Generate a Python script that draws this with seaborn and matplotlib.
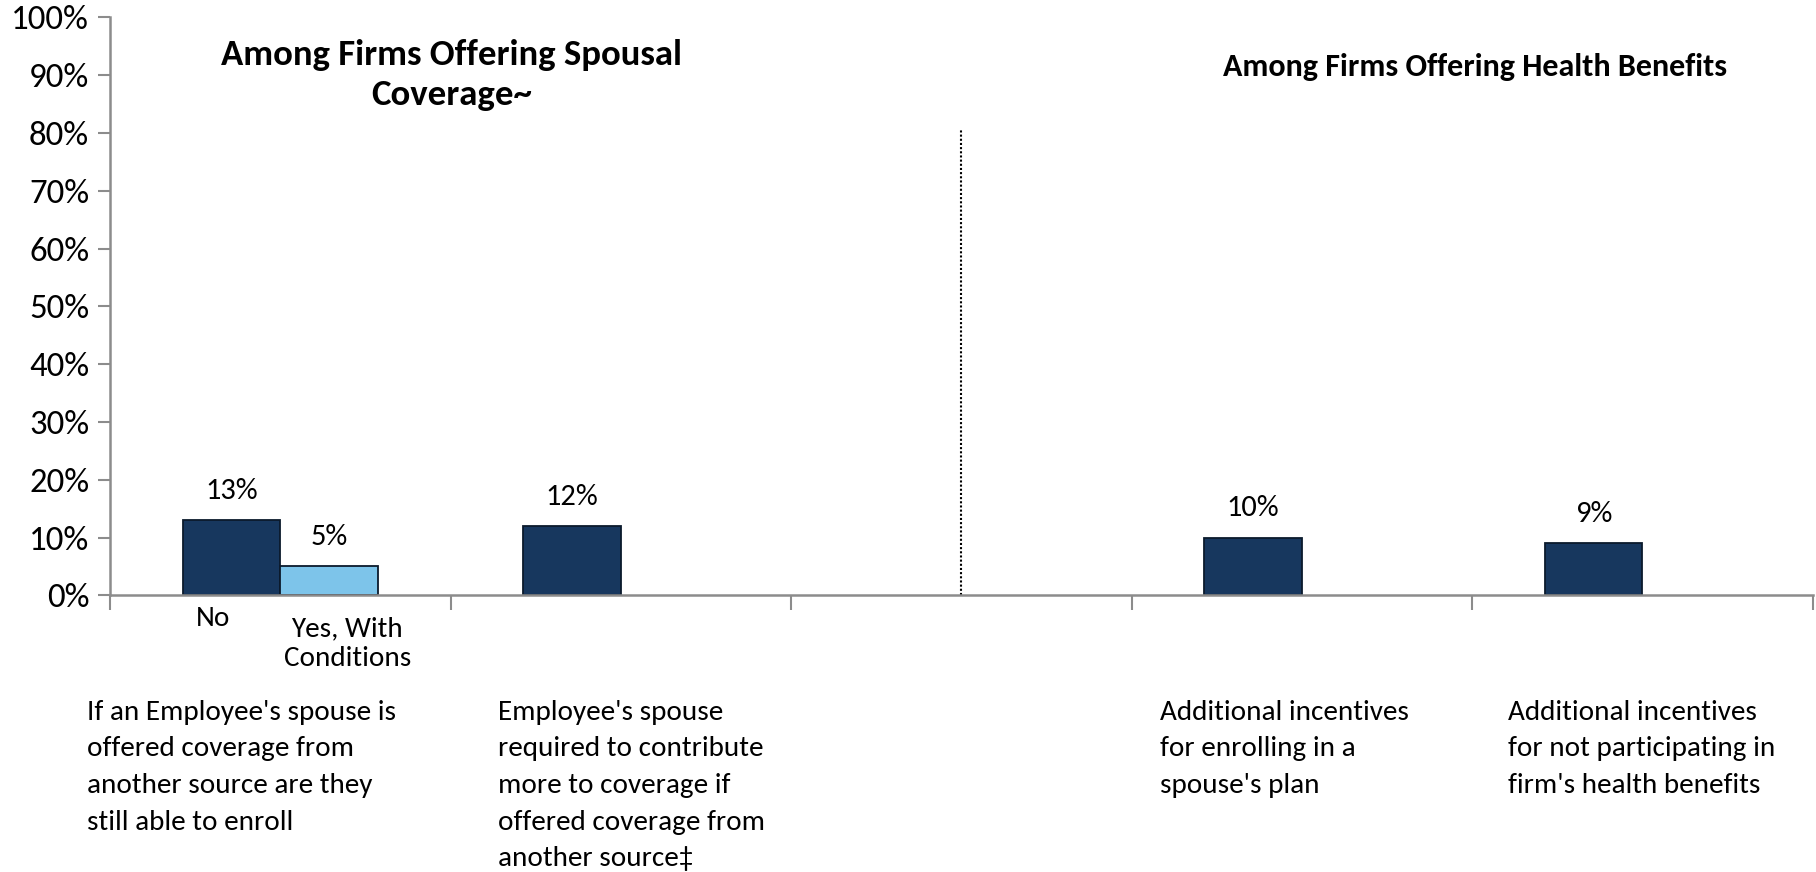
import matplotlib
matplotlib.use("Agg")
import matplotlib.pyplot as plt
import seaborn as sns
import pandas as pd
import numpy as np

sns.set_theme(style="white")
plt.rcParams["font.family"] = ["Carlito", "Lato", "DejaVu Sans"]
plt.rcParams["text.color"] = "black"

# Data
categories = ["c1", "c2", "c3", "c4", "c5"]
category_labels = [
    "If an Employee's spouse is\noffered coverage from\nanother source are they\nstill able to enroll",
    "Employee's spouse\nrequired to contribute\nmore to coverage if\noffered coverage from\nanother source\u2021",
    "",
    "Additional incentives\nfor enrolling in a\nspouse's plan",
    "Additional incentives\nfor not participating in\nfirm's health benefits",
]
groups = ["No", "Yes, With Conditions"]
group_labels = ["No", "Yes, With\nConditions"]
bar_category = ["c1", "c1", "c2", "c4", "c5"]
bar_group = ["No", "Yes, With Conditions", "No", "No", "No"]
bar_value = [13, 5, 12, 10, 9]
y_ticks = [0, 10, 20, 30, 40, 50, 60, 70, 80, 90, 100]
title_left = "Among Firms Offering Spousal\nCoverage~"
title_right = "Among Firms Offering Health Benefits"

df = pd.DataFrame({"category": bar_category, "group": bar_group, "value": bar_value})

fig = plt.figure(figsize=(18.16, 8.72), dpi=100)
ax = fig.add_axes([110 / 1816, 1 - 595.3 / 872, (1812.5 - 110) / 1816, (595.3 - 17.4) / 872])

palette = {"No": "#17375E", "Yes, With Conditions": "#7DC4EA"}
sns.barplot(data=df, x="category", y="value", hue="group", order=categories,
            hue_order=groups, palette=palette, width=0.572, dodge=True,
            errorbar=None, legend=False, saturation=1, ax=ax,
            edgecolor="#0B1A2C", linewidth=1.3)

ax.set_xlim(-0.5, len(categories) - 0.5)
ax.set_ylim(0, 100)
ax.set_yticks(y_ticks)
ax.set_yticklabels([f"{t}%" for t in y_ticks], fontsize=25, color="black")
ax.set_xlabel("")
ax.set_ylabel("")

# category boundaries carry the tick marks; the centres carry no ticks
ax.set_xticks([])
ax.set_xticks(np.arange(-0.5, len(categories)), minor=True)
ax.tick_params(axis="x", which="minor", bottom=True, length=11, width=1.5,
               color="#8C8C8C", direction="out")
ax.tick_params(axis="y", which="major", left=True, length=9, width=1.5,
               color="#8C8C8C", direction="out", pad=6, labelcolor="black")

for side in ["top", "right"]:
    ax.spines[side].set_visible(False)
for side in ["left", "bottom"]:
    ax.spines[side].set_color("#8C8C8C")
    ax.spines[side].set_linewidth(1.8)

# value labels above bars
for patch in ax.patches:
    h = patch.get_height()
    if np.isnan(h) or h <= 0:
        continue
    ax.annotate(f"{h:.0f}%", (patch.get_x() + patch.get_width() / 2, h),
                xytext=(0, 21), textcoords="offset points",
                ha="center", va="center", fontsize=22, color="black")

# sub-group labels under the first category
ax.text(-0.197, -4.0, group_labels[0], ha="center", va="center", fontsize=21)
ax.text(0.197, -3.6, group_labels[1], ha="center", va="top", fontsize=21,
        linespacing=1.25)

# category descriptions
label_left = [-0.568, 0.639, 2.0, 2.585, 3.605]
for lbl, x in zip(category_labels, label_left):
    if lbl:
        ax.text(x, -18.1, lbl, ha="left", va="top", fontsize=21,
                linespacing=1.58, clip_on=False)

# section divider
ax.axvline(2, ymin=0, ymax=0.806, color="black", linestyle=(0, (1, 1)), linewidth=1.5)

ax.text(0.503, 90.0, title_left, ha="center", va="center", fontsize=26.5,
        fontweight="bold", linespacing=1.32)
ax.text(3.51, 91.4, title_right, ha="center", va="center", fontsize=23,
        fontweight="bold")

fig.savefig("out.png", dpi=100)
